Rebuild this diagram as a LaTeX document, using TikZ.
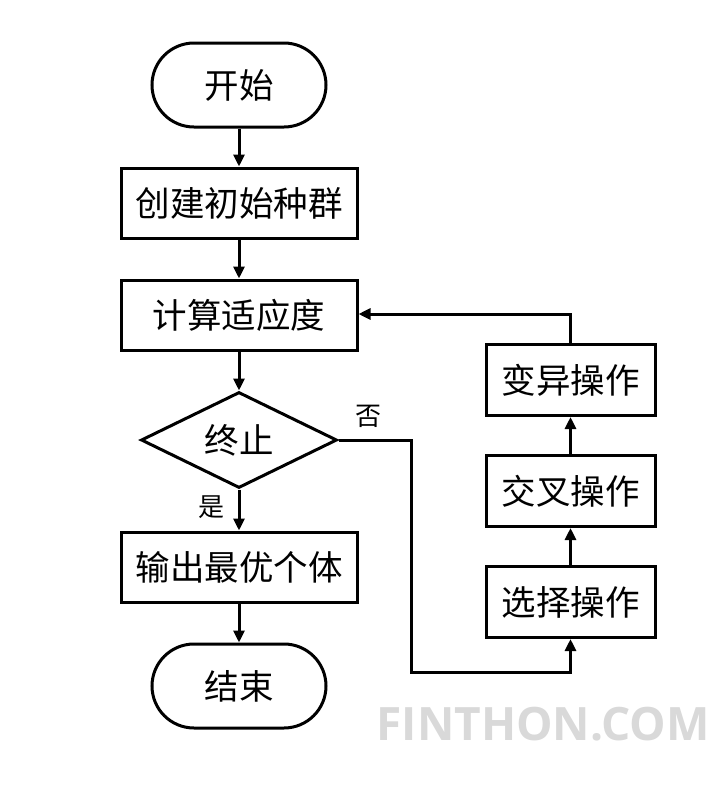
\documentclass[tikz,border=0pt]{standalone}
\usepackage{fontspec}
\setmainfont{Noto Sans CJK SC}
\newfontfamily\wmfont{Open Sans}
\usetikzlibrary{shapes.geometric,arrows.meta}
\begin{document}
\begin{tikzpicture}[x=1pt,y=-1pt,
  every node/.style={font=\fontsize{34.5}{38}\selectfont, inner sep=0pt},
  proc/.style={draw, line width=3pt, minimum width=236pt, minimum height=70pt},
  side/.style={draw, line width=3pt, minimum width=169pt, minimum height=71pt},
  term/.style={draw, line width=3pt, rounded corners=42pt, minimum width=174pt, minimum height=84pt},
  dec/.style={draw, line width=3pt, diamond, aspect=2.04, minimum width=196pt, minimum height=96pt},
  conn/.style={line width=3pt, -{Triangle[length=12pt,width=11pt]}},
  lab/.style={font=\fontsize{26}{28}\selectfont}
]
\useasboundingbox (0,0) rectangle (724,788);
\node[term] (start) at (239,85) {开始};
\node[proc] (init) at (239,203) {创建初始种群};
\node[proc] (fit) at (239,315) {计算适应度};
\node[dec] (stop) at (239,440) {终止};
\node[proc] (out) at (239,567) {输出最优个体};
\node[term] (end) at (239,686) {结束};
\node[side] (mut) at (570.5,380) {变异操作};
\node[side] (cross) at (570.5,491) {交叉操作};
\node[side] (sel) at (570.5,602) {选择操作};
\coordinate (c1) at (411,440);
\coordinate (c2) at (411,672);
\coordinate (c3) at (570.5,672);
\coordinate (c4) at (570.5,314);
\draw[conn] (start) -- (init);
\draw[conn] (init) -- (fit);
\draw[conn] (fit) -- (stop);
\draw[conn] (stop) -- (out);
\draw[conn] (out) -- (end);
\draw[conn] (stop.east) -- (c1) -- (c2) -- (c3) -- (sel.south);
\draw[conn] (sel) -- (cross);
\draw[conn] (cross) -- (mut);
\draw[conn] (mut.north) -- (c4) -- (fit.east |- c4);
\node[lab] (no) at (368,416) {否};
\node[lab] (yes) at (211,507) {是};
\node[font=\wmfont\bfseries\fontsize{46}{50}\selectfont, text=black!15] (wm) at (543,724) {FINTHON.COM};
\end{tikzpicture}
\end{document}
